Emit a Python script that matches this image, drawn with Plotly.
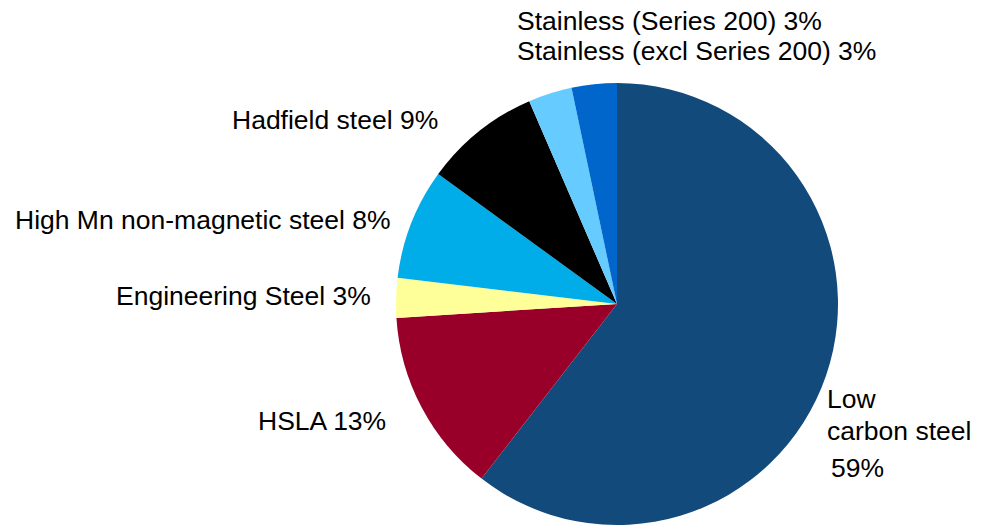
import plotly.graph_objects as go

W, H = 984, 525

# Data (clockwise from 12 o'clock)
categories = ["Low carbon steel", "HSLA", "Engineering Steel", "High Mn non-magnetic steel",
              "Hadfield steel", "Stainless (Series 200)", "Stainless (excl Series 200)"]
shares = [60.5, 13.5, 2.9, 8.1, 8.5, 3.2, 3.3]
label_texts = ["HSLA 13%", "Engineering Steel 3%", "High Mn non-magnetic steel 8%",
               "Hadfield steel 9%", "Stainless (Series 200) 3%", "Stainless (excl Series 200) 3%"]
low_carbon_lines = ["Low", "carbon steel", "59%"]
colors = ["#134A7C", "#990029", "#FFFF99", "#00ADE9", "#000000", "#66CCFF", "#0066CC"]

fig = go.Figure()
cx, cy, r = 617, 304, 221
fig.add_trace(go.Pie(
    labels=categories,
    values=shares,
    sort=False,
    direction="clockwise",
    rotation=0,
    marker=dict(colors=colors, line=dict(width=0)),
    textinfo="none",
    hoverinfo="label+percent",
    showlegend=False,
    domain=dict(x=[(cx - r) / W, (cx + r) / W], y=[max(0, 1 - (cy + r) / H), 1 - (cy - r) / H]),
))

FONT = dict(family="Liberation Sans, Arial, sans-serif", size=26.5, color="#000000")

def px(x):
    return x / W

def py(y):
    return 1 - y / H

# (text, x, y, xanchor) in pixel coordinates
placements = [
    (label_texts[4], 515, 21, "left"),
    (label_texts[5], 515, 51, "left"),
    (label_texts[3], 440, 119.5, "right"),
    (label_texts[2], 393, 219.5, "right"),
    (label_texts[1], 373, 296, "right"),
    (label_texts[0], 388, 421, "right"),
    (low_carbon_lines[0], 825, 399, "left"),
    (low_carbon_lines[1], 825, 431, "left"),
    (low_carbon_lines[2], 829, 468, "left"),
]
annotations = []
for text, x, y, xa in placements:
    annotations.append(dict(text=text, x=px(x), y=py(y), xref="paper", yref="paper",
                            xanchor=xa, yanchor="middle", showarrow=False, font=FONT))

fig.update_layout(
    width=W, height=H,
    margin=dict(l=0, r=0, t=0, b=0),
    paper_bgcolor="#FFFFFF",
    plot_bgcolor="#FFFFFF",
    annotations=annotations,
)

fig.write_html("out.html", config={"displayModeBar": False},
               post_script="document.body.style.margin='0';document.body.style.overflow='hidden';")
